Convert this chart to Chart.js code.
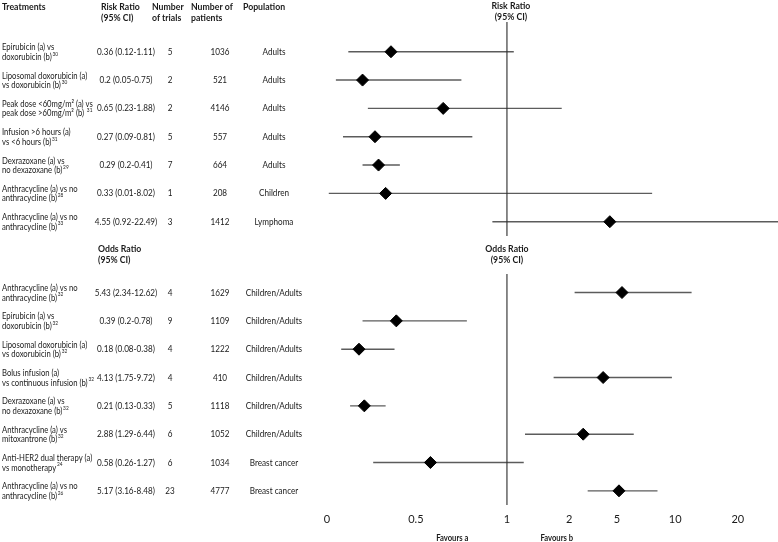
<!DOCTYPE html>
<html>
<head>
<meta charset="utf-8">
<script src="https://cdn.jsdelivr.net/npm/chart.js@4.4.0/dist/chart.umd.min.js"></script>
<style>
  html, body { margin: 0; padding: 0; background: #fff; }
</style>
</head>
<body>
<canvas id="forest" width="778" height="542"></canvas>
<script>
// Risk ratio block
const rrTreatments = [
  ['Epirubicin (a) vs', 'doxorubicin (b)'],
  ['Liposomal doxorubicin (a)', 'vs doxorubicin (b)'],
  ['Peak dose <60mg/m² (a) vs', 'peak dose >60mg/m² (b) '],
  ['Infusion >6 hours (a)', 'vs <6 hours (b)'],
  ['Dexrazoxane (a) vs', 'no dexazoxane (b)'],
  ['Anthracycline (a) vs no', 'anthracycline (b)'],
  ['Anthracycline (a) vs no', 'anthracycline (b)']
];
const rrRefs = ['30', '30', '31', '31', '29', '28', '33'];
const rrEstimate = [0.36, 0.2, 0.65, 0.27, 0.29, 0.33, 4.55];
const rrLower = [0.12, 0.05, 0.23, 0.09, 0.2, 0.01, 0.92];
const rrUpper = [1.11, 0.75, 1.88, 0.81, 0.41, 8.02, 22.49];
const rrTrials = [5, 2, 2, 5, 7, 1, 3];
const rrPatients = [1036, 521, 4146, 557, 664, 208, 1412];
const rrPopulation = ['Adults', 'Adults', 'Adults', 'Adults', 'Adults', 'Children', 'Lymphoma'];

// Odds ratio block
const orTreatments = [
  ['Anthracycline (a) vs no', 'anthracycline (b)'],
  ['Epirubicin (a) vs', 'doxorubicin (b)'],
  ['Liposomal doxorubicin (a)', 'vs doxorubicin (b)'],
  ['Bolus infusion (a)', 'vs continuous infusion (b)'],
  ['Dexrazoxane (a) vs', 'no dexazoxane (b)'],
  ['Anthracycline (a) vs', 'mitoxantrone (b)'],
  ['Anti-HER2 dual therapy (a)', 'vs monotherapy'],
  ['Anthracycline (a) vs no', 'anthracycline (b)']
];
const orRefs = ['32', '32', '32', '32', '32', '32', '24', '26'];
const orEstimate = [5.43, 0.39, 0.18, 4.13, 0.21, 2.88, 0.58, 5.17];
const orLower = [2.34, 0.2, 0.08, 1.75, 0.13, 1.29, 0.26, 3.16];
const orUpper = [12.62, 0.78, 0.38, 9.72, 0.33, 6.44, 1.27, 8.48];
const orTrials = [4, 9, 4, 4, 5, 6, 6, 23];
const orPatients = [1629, 1109, 1222, 410, 1118, 1052, 1034, 4777];
const orPopulation = ['Children/Adults', 'Children/Adults', 'Children/Adults', 'Children/Adults',
  'Children/Adults', 'Children/Adults', 'Breast cancer', 'Breast cancer'];

const xTicks = [0, 0.5, 1, 2, 5, 10, 20];

// row index on the y axis: odds ratio rows start after a header gap
const OR_OFFSET = 8.5;
const rows = [];
rrEstimate.forEach((v, i) => rows.push({
  y: i, est: v, lo: rrLower[i], hi: rrUpper[i], text: rrTreatments[i], ref: rrRefs[i],
  trials: rrTrials[i], patients: rrPatients[i], pop: rrPopulation[i]
}));
orEstimate.forEach((v, j) => rows.push({
  y: OR_OFFSET + j, est: v, lo: orLower[j], hi: orUpper[j], text: orTreatments[j], ref: orRefs[j],
  trials: orTrials[j], patients: orPatients[j], pop: orPopulation[j]
}));

// the published axis is piecewise: linear below 1, compressed above
class ForestScale extends Chart.LinearScale {
  getPixelForValue(value) {
    if (value === null || isNaN(value)) return NaN;
    const st = this.options.stops;
    const v = st.values, f = st.fractions;
    let i = 0;
    while (i < v.length - 2 && value > v[i + 1]) i++;
    const t = (value - v[i]) / (v[i + 1] - v[i]);
    return this.getPixelForDecimal(f[i] + t * (f[i + 1] - f[i]));
  }
}
ForestScale.id = 'forest';
ForestScale.defaults = {};
Chart.register(ForestScale);

const BODY = '"Lato", "Open Sans", sans-serif';

function txt(ctx, s, x, y, align, font, squeeze = 0.87) {
  ctx.font = font;
  ctx.textAlign = align;
  const w = ctx.measureText(s).width * squeeze;
  ctx.fillText(s, x, y, w);
  return w;
}

const tablePlugin = {
  id: 'table',
  afterDraw(chart) {
    const ctx = chart.ctx;
    const ys = chart.scales.y, xs = chart.scales.x;
    ctx.save();
    ctx.fillStyle = '#1a1a1a';
    ctx.textBaseline = 'middle';
    const bold = 'bold 10px ' + BODY;
    const reg = '9.4px ' + BODY;

    // column headers
    txt(ctx, 'Treatments', 2, 7, 'left', bold);
    txt(ctx, 'Risk Ratio', 101, 7, 'left', bold);
    txt(ctx, '(95% CI)', 101, 18, 'left', bold);
    txt(ctx, 'Number', 152, 7, 'left', bold);
    txt(ctx, 'of trials', 152, 18, 'left', bold);
    txt(ctx, 'Number of', 191, 7, 'left', bold);
    txt(ctx, 'patients', 191, 18, 'left', bold);
    txt(ctx, 'Population', 243, 7, 'left', bold);
    txt(ctx, 'Odds Ratio', 98, 249, 'left', bold);
    txt(ctx, '(95% CI)', 98, 260, 'left', bold);

    const cx = xs.getPixelForValue(1);
    txt(ctx, 'Risk Ratio', cx + 4, 6, 'center', bold);
    txt(ctx, '(95% CI)', cx + 4, 17, 'center', bold);
    txt(ctx, 'Odds Ratio', cx, 249, 'center', bold);
    txt(ctx, '(95% CI)', cx, 260, 'center', bold);

    rows.forEach(r => {
      const py = ys.getPixelForValue(r.y);
      txt(ctx, r.text[0], 2, py - 4.5, 'left', reg, 0.82);
      const w = txt(ctx, r.text[1], 2, py + 5, 'left', reg, 0.82);
      txt(ctx, r.ref, 2 + w + 0.8, py + 2, 'left', '5.5px ' + BODY);
      txt(ctx, r.est + ' (' + r.lo + '-' + r.hi + ')', 126, py, 'center', reg);
      txt(ctx, String(r.trials), 170, py, 'center', reg);
      txt(ctx, String(r.patients), 220, py, 'center', reg);
      txt(ctx, r.pop, 274, py, 'center', reg);
    });

    const fy = chart.chartArea.bottom + 33;
    txt(ctx, 'Favours a', xs.getPixelForValue(0.7), fy, 'center', 'bold 8.8px ' + BODY);
    txt(ctx, 'Favours b', xs.getPixelForValue(1.8), fy, 'center', 'bold 8.8px ' + BODY);
    ctx.restore();
  }
};

const ciSets = rows.map(r => ({
  type: 'line',
  data: [{ x: r.lo, y: r.y }, { x: r.hi, y: r.y }],
  borderColor: '#5c5c5c',
  borderWidth: 1.4,
  pointRadius: 0
}));

const refLine = (y0, y1) => ({
  type: 'line',
  data: [{ x: 1, y: y0 }, { x: 1, y: y1 }],
  borderColor: '#2b2b2b',
  borderWidth: 1.1,
  pointRadius: 0
});

new Chart(document.getElementById('forest'), {
  type: 'scatter',
  data: {
    datasets: [
      {
        data: rows.map(r => ({ x: r.est, y: r.y })),
        pointStyle: 'rectRot',
        pointRadius: 6,
        backgroundColor: '#000',
        borderColor: '#000',
        borderWidth: 1
      },
      refLine(-1.05, 6.5),
      refLine(7.85, 16),
      ...ciSets
    ]
  },
  options: {
    responsive: false,
    animation: false,
    events: [],
    layout: { autoPadding: false, padding: { left: 327, right: 0, top: 22, bottom: 15 } },
    plugins: { legend: { display: false }, tooltip: { enabled: false } },
    scales: {
      x: {
        type: 'forest',
        min: 0,
        max: 22,
        stops: {
          values: [0, 0.5, 1, 2, 5, 10, 20, 22],
          fractions: [0, 0.197, 0.399, 0.537, 0.643, 0.772, 0.911, 1]
        },
        afterBuildTicks: s => { s.ticks = xTicks.map(v => ({ value: v })); },
        afterFit: s => { s.height = 22; },
        grid: { display: false, drawTicks: false },
        border: { display: false },
        ticks: {
          autoSkip: false,
          maxRotation: 0,
          padding: 8,
          color: '#1a1a1a',
          font: { family: BODY, size: 11 },
          callback: v => String(v)
        }
      },
      y: {
        type: 'linear',
        display: false,
        reverse: true,
        min: -1.05,
        max: 16
      }
    }
  },
  plugins: [tablePlugin]
});
</script>
</body>
</html>
